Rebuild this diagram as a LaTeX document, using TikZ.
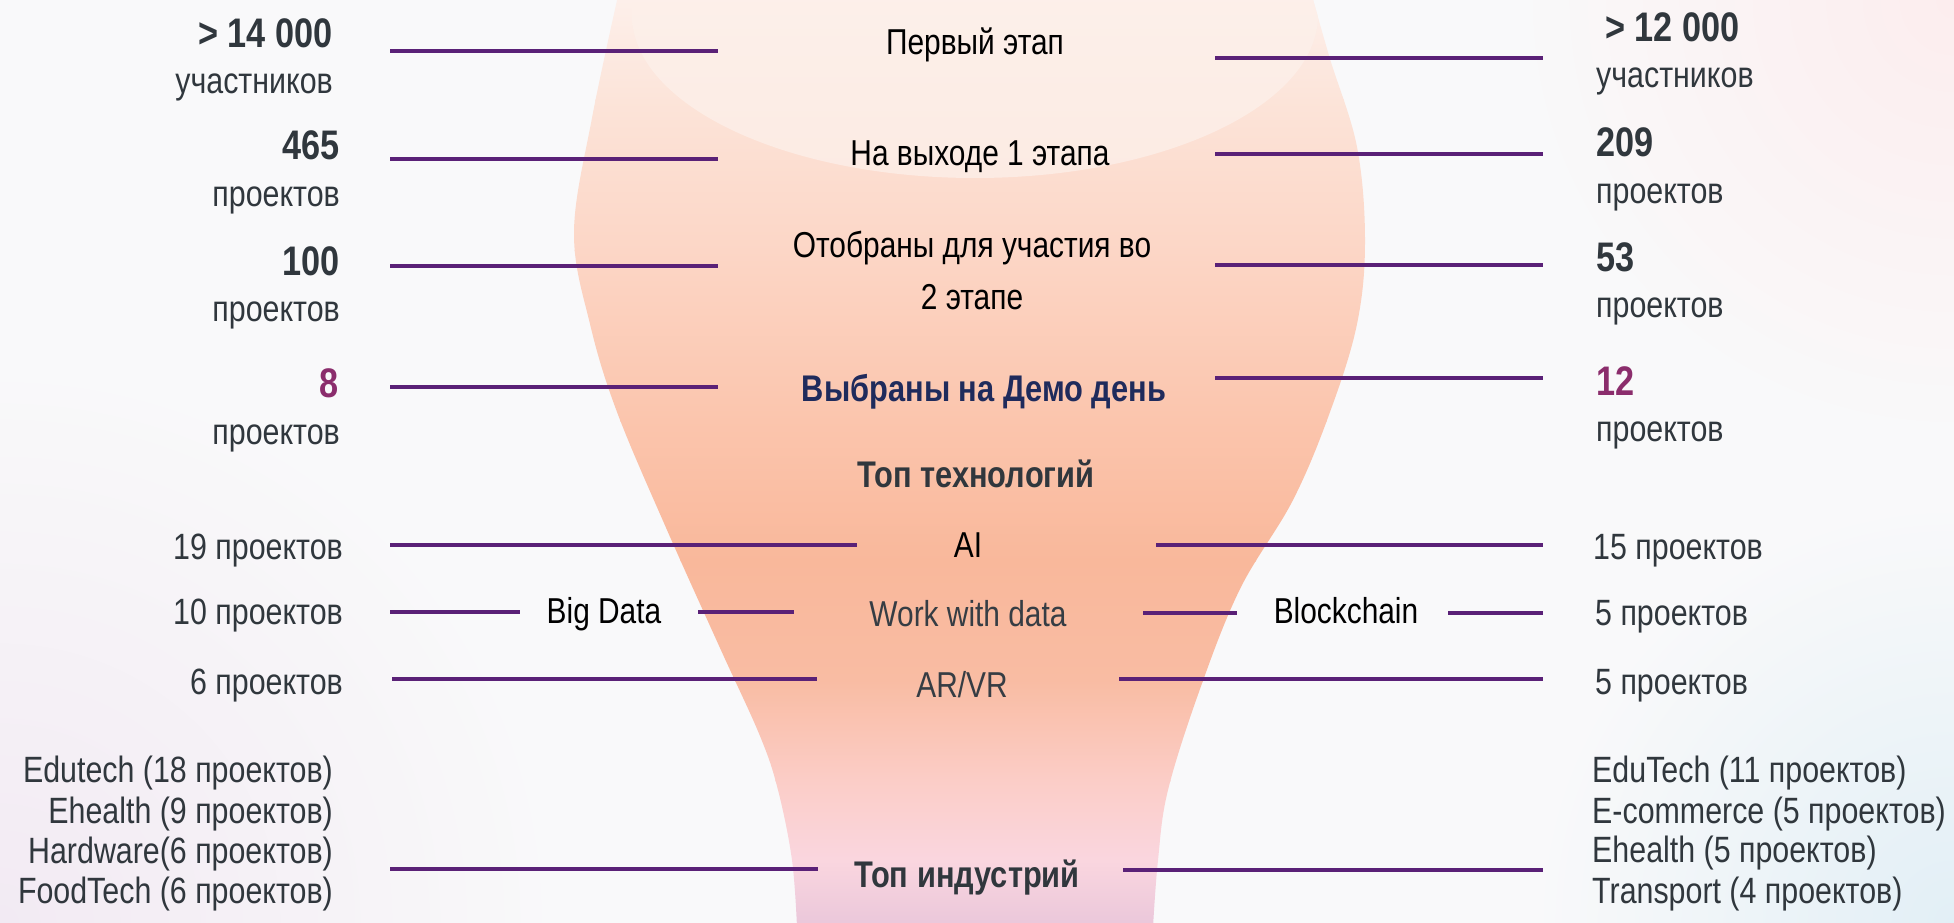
\documentclass[tikz,border=0pt]{standalone}
\usepackage{fontspec}
\setmainfont[FakeStretch=0.83]{Liberation Sans}
\definecolor{bg}{HTML}{F9F9FA}
\definecolor{lav}{HTML}{F2EAF3}
\definecolor{pinkt}{HTML}{FCEDEE}
\definecolor{bluet}{HTML}{E2EFF6}
\definecolor{linec}{HTML}{5A2177}
\definecolor{txt}{HTML}{30373D}
\definecolor{accent}{HTML}{8B2D6C}
\definecolor{navy}{HTML}{1F2B5C}
\definecolor{greyt}{HTML}{363D44}
\definecolor{fa}{HTML}{FDF0EB}
\definecolor{fb}{HTML}{FCE4D9}
\definecolor{fc}{HTML}{FCD6C6}
\definecolor{fd}{HTML}{FBC5AD}
\definecolor{fe}{HTML}{F9B89B}
\definecolor{ff}{HTML}{F9BCA3}
\definecolor{fg}{HTML}{FBCDC7}
\definecolor{fh}{HTML}{FAD6DF}
\definecolor{fi}{HTML}{E9C6DA}
\definecolor{ea}{HTML}{FDF3EF}
\definecolor{eb}{HTML}{FCEBE3}
\tikzset{
  conn/.style={draw=linec, line width=4.7pt},
  lbl/.style={inner sep=0pt, text=txt, font=\fontsize{36.6}{42}\selectfont},
  num/.style={inner sep=0pt, text=txt, font=\fontsize{41.3}{46}\selectfont\bfseries},
  ctr/.style={inner sep=0pt, text=black, font=\fontsize{36}{42}\selectfont, anchor=base},
  ctrb/.style={inner sep=0pt, text=txt, font=\fontsize{37.1}{42}\selectfont\bfseries, anchor=base},
}
\def\funnelpath{plot[smooth, tension=0.6] coordinates {(618,-4) (592,118) (574,232) (590,324) (617,412) (667,530) (720,648) (760,736) (778,790) (792,860) (797,927)} -- plot[smooth, tension=0.6] coordinates {(1153,927) (1158,860) (1168,790) (1200,689) (1240,589) (1293,500) (1330,412) (1357,324) (1365,241) (1357,147) (1330,59) (1312,-4)} -- cycle}
\begin{document}
\begin{tikzpicture}[x=1pt,y=-1pt]
\useasboundingbox (0,0) rectangle (1954,923);
\fill[bg] (0,0) rectangle (1954,923);
\begin{scope}
  \clip (0,0) rectangle (1954,923);
  \shade[inner color=lav, outer color=bg] (0,923) circle (560pt);
  \shade[inner color=pinkt, outer color=bg] (1954,0) circle (440pt);
  \shade[inner color=bluet, outer color=bg] (1954,923) circle (420pt);
\end{scope}
% funnel
\begin{scope}
  \clip \funnelpath;
  \shade[top color=fa, bottom color=fb] (500,-6) rectangle (1400,101);
  \shade[top color=fb, bottom color=fc] (500,100) rectangle (1400,251);
  \shade[top color=fc, bottom color=fd] (500,250) rectangle (1400,421);
  \shade[top color=fd, bottom color=fe] (500,420) rectangle (1400,561);
  \shade[top color=fe, bottom color=ff] (500,560) rectangle (1400,681);
  \shade[top color=ff, bottom color=fg] (500,680) rectangle (1400,781);
  \shade[top color=fg, bottom color=fh] (500,780) rectangle (1400,861);
  \shade[top color=fh, bottom color=fi] (500,860) rectangle (1400,930);
  \shade[top color=ea, bottom color=eb] (975,15) ellipse [x radius=343pt, y radius=163pt];
\end{scope}
% left column
\node[num, anchor=base east] (l1n) at (333,48) {> 14 000};
\node[lbl, anchor=base east] (l1t) at (333,94) {участников};
\node[num, anchor=base east] (l2n) at (340,160) {465};
\node[lbl, anchor=base east] (l2t) at (340,206) {проектов};
\node[num, anchor=base east] (l3n) at (340,275) {100};
\node[lbl, anchor=base east] (l3t) at (340,321) {проектов};
\node[num, anchor=base east, text=accent] (l4n) at (339,397) {8};
\node[lbl, anchor=base east] (l4t) at (340,444) {проектов};
\node[lbl, anchor=base east] (l5) at (343,559) {19 проектов};
\node[lbl, anchor=base east] (l6) at (343,624) {10 проектов};
\node[lbl, anchor=base east] (l7) at (343,694) {6 проектов};
\node[lbl, anchor=base east] (li1) at (333,782) {Edutech (18 проектов)};
\node[lbl, anchor=base east] (li2) at (333,823) {Ehealth (9 проектов)};
\node[lbl, anchor=base east] (li3) at (333,863) {Hardware(6 проектов)};
\node[lbl, anchor=base east] (li4) at (333,903) {FoodTech (6 проектов)};
% right column
\node[num, anchor=base west] (r1n) at (1605,42) {> 12 000};
\node[lbl, anchor=base west] (r1t) at (1596,88) {участников};
\node[num, anchor=base west] (r2n) at (1596,157) {209};
\node[lbl, anchor=base west] (r2t) at (1596,203) {проектов};
\node[num, anchor=base west] (r3n) at (1596,271) {53};
\node[lbl, anchor=base west] (r3t) at (1596,317) {проектов};
\node[num, anchor=base west, text=accent] (r4n) at (1596,395) {12};
\node[lbl, anchor=base west] (r4t) at (1596,441) {проектов};
\node[lbl, anchor=base west] (r5) at (1593,559) {15 проектов};
\node[lbl, anchor=base west] (r6) at (1595,625) {5 проектов};
\node[lbl, anchor=base west] (r7) at (1595,694) {5 проектов};
\node[lbl, anchor=base west] (ri1) at (1592,782) {EduTech (11 проектов)};
\node[lbl, anchor=base west] (ri2) at (1592,823) {E-commerce (5 проектов)};
\node[lbl, anchor=base west] (ri3) at (1592,862) {Ehealth (5 проектов)};
\node[lbl, anchor=base west] (ri4) at (1592,903) {Transport (4 проектов)};
% centre
\node[ctr] (c1) at (975,55) {Первый этап};
\node[ctr] (c2) at (980,165) {На выходе 1 этапа};
\node[ctr] (c3a) at (972,257) {Отобраны для участия во};
\node[ctr] (c3b) at (972,309) {2 этапе};
\node[ctrb, text=navy] (c4) at (984,401) {Выбраны на Демо день};
\node[ctrb] (c5) at (976,487) {Топ технологий};
\node[ctr] (c6) at (968,557) {AI};
\node[ctr, text=greyt] (c7) at (968,626) {Work with data};
\node[ctr, text=greyt] (c8) at (962,697) {AR/VR};
\node[ctrb] (c9) at (967,887) {Топ индустрий};
\node[ctr] (bd) at (604,623) {Big Data};
\node[ctr] (bc) at (1346,623) {Blockchain};
% connectors left
\coordinate (la1) at (390,51);  \coordinate (lb1) at (718,51);
\coordinate (la2) at (390,159); \coordinate (lb2) at (718,159);
\coordinate (la3) at (390,266); \coordinate (lb3) at (718,266);
\coordinate (la4) at (390,387); \coordinate (lb4) at (718,387);
\coordinate (la5) at (390,545); \coordinate (lb5) at (857,545);
\coordinate (la6) at (390,612); \coordinate (lb6) at (520,612);
\coordinate (lc6) at (698,612); \coordinate (ld6) at (794,612);
\coordinate (la7) at (392,679); \coordinate (lb7) at (817,679);
\coordinate (la8) at (390,869); \coordinate (lb8) at (818,869);
\draw[conn] (la1) -- (lb1);
\draw[conn] (la2) -- (lb2);
\draw[conn] (la3) -- (lb3);
\draw[conn] (la4) -- (lb4);
\draw[conn] (la5) -- (lb5);
\draw[conn] (la6) -- (lb6);
\draw[conn] (lc6) -- (ld6);
\draw[conn] (la7) -- (lb7);
\draw[conn] (la8) -- (lb8);
% connectors right
\coordinate (ra1) at (1215,58);  \coordinate (rb1) at (1543,58);
\coordinate (ra2) at (1215,154); \coordinate (rb2) at (1543,154);
\coordinate (ra3) at (1215,265); \coordinate (rb3) at (1543,265);
\coordinate (ra4) at (1215,378); \coordinate (rb4) at (1543,378);
\coordinate (ra5) at (1156,545); \coordinate (rb5) at (1543,545);
\coordinate (ra6) at (1143,613); \coordinate (rb6) at (1237,613);
\coordinate (rc6) at (1448,613); \coordinate (rd6) at (1543,613);
\coordinate (ra7) at (1119,679); \coordinate (rb7) at (1543,679);
\coordinate (ra8) at (1123,870); \coordinate (rb8) at (1543,870);
\draw[conn] (ra1) -- (rb1);
\draw[conn] (ra2) -- (rb2);
\draw[conn] (ra3) -- (rb3);
\draw[conn] (ra4) -- (rb4);
\draw[conn] (ra5) -- (rb5);
\draw[conn] (ra6) -- (rb6);
\draw[conn] (rc6) -- (rd6);
\draw[conn] (ra7) -- (rb7);
\draw[conn] (ra8) -- (rb8);
\end{tikzpicture}
\end{document}
